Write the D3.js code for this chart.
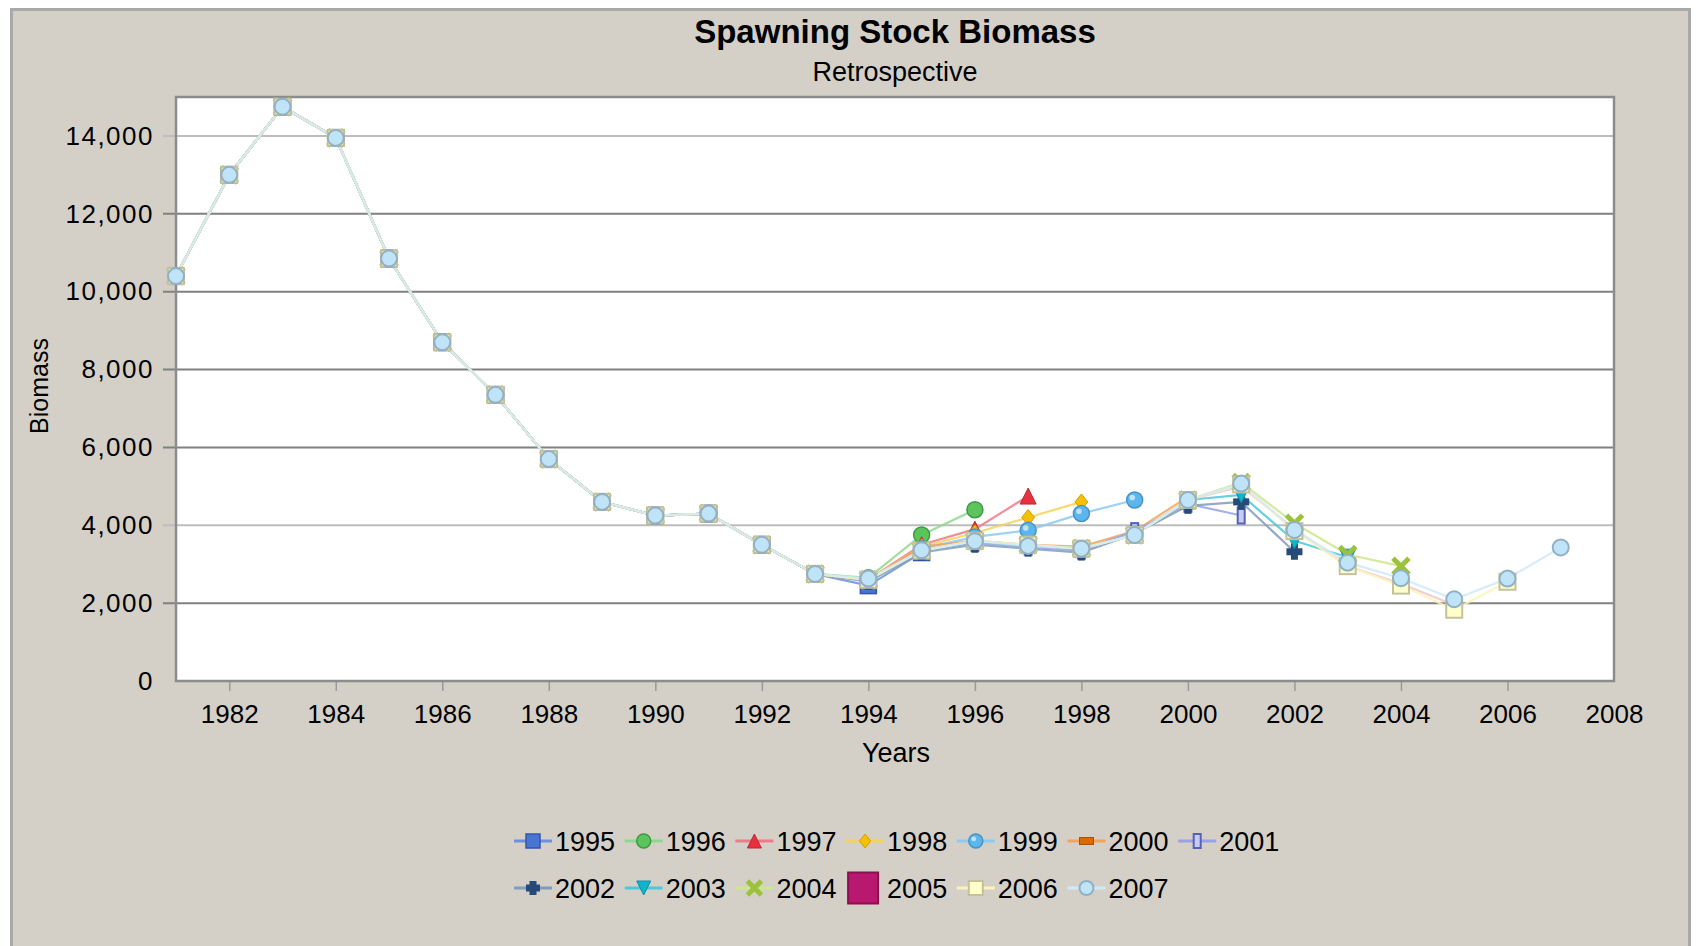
<!DOCTYPE html>
<html>
<head>
<meta charset="utf-8">
<script src="https://cdn.jsdelivr.net/npm/d3@7"></script>
<style>
  html, body { margin: 0; padding: 0; background: #ffffff; }
  svg { display: block; }
  text { font-family: "Liberation Sans", Arial, sans-serif; fill: #000; }
</style>
</head>
<body>
<svg id="chart" width="1703" height="946"></svg>
<script>
// ---------------- DATA ----------------
const chartTitle = "Spawning Stock Biomass";
const chartSubtitle = "Retrospective";
const xLabel = "Years";
const yLabel = "Biomass";

const startYear = 1981;
const xTickLabels = [1982, 1984, 1986, 1988, 1990, 1992, 1994, 1996, 1998, 2000, 2002, 2004, 2006, 2008];
const yTickLabels = [0, 2000, 4000, 6000, 8000, 10000, 12000, 14000];

const seriesNames = ["1995", "1996", "1997", "1998", "1999", "2000", "2001",
                     "2002", "2003", "2004", "2005", "2006", "2007"];

// shared values 1981-1993 (all retrospective runs coincide there)
const commonValues = [10400, 13000, 14750, 13950, 10850, 8700, 7350, 5700, 4600, 4250, 4300, 3500, 2750];

// values from 1994 to the terminal year of each run
const tail1995 = [2450, 3300];
const tail1996 = [2650, 3750, 4400];
const tail1997 = [2600, 3500, 3900, 4750];
const tail1998 = [2600, 3450, 3800, 4200, 4600];
const tail1999 = [2600, 3400, 3700, 3870, 4300, 4650];
const tail2000 = [2600, 3450, 3600, 3500, 3450, 3850, 4730];
const tail2001 = [2600, 3350, 3550, 3450, 3350, 3850, 4550, 4250];
const tail2002 = [2550, 3300, 3500, 3400, 3300, 3780, 4500, 4600, 3320];
const tail2003 = [2600, 3350, 3580, 3480, 3400, 3760, 4650, 4780, 3600, 3180];
const tail2004 = [2600, 3350, 3600, 3500, 3400, 3750, 4650, 5100, 4050, 3250, 2950];
const tail2005 = [2600, 3350, 3600, 3500, 3400, 3750, 4650, 5000, 3900, 2950, 2500, 1950];
const tail2006 = [2600, 3350, 3600, 3500, 3400, 3750, 4650, 5050, 3850, 2950, 2450, 1830, 2550];
const tail2007 = [2630, 3360, 3590, 3470, 3400, 3750, 4650, 5070, 3880, 3040, 2640, 2100, 2630, 3430];

const tails = [tail1995, tail1996, tail1997, tail1998, tail1999, tail2000, tail2001,
               tail2002, tail2003, tail2004, tail2005, tail2006, tail2007];

// ---------------- STYLE ----------------
const lineColors = ["#6f8fd8", "#8ed88e", "#f07a88", "#f5d25a", "#8ccaf2", "#f3a45a", "#9aa2e4",
                    "#7f9cbc", "#4cc8d8", "#cce88a", "#f2c4c4", "#fbf4bc", "#cfeaf8"];
const markerTypes = ["square", "circle", "triangle", "diamond", "bluecircle", "hbar", "vbar",
                     "plus", "downtri", "xmark", "none", "palesquare", "basecircle"];

const W = 1703, H = 946;
const plotL = 176, plotR = 1614, plotT = 97, plotB = 681;

const svg = d3.select("#chart");

// outer panel
svg.append("rect").attr("x", 11).attr("y", 9).attr("width", 1678).attr("height", H)
  .attr("fill", "#d4d0c8");
svg.append("path").attr("d", `M11.5,${H} V9.5 H1689.5 V${H}`)
  .attr("fill", "none").attr("stroke", "#a9a9a9").attr("stroke-width", 3);

const x = d3.scaleLinear().domain([startYear, 2008]).range([plotL, plotR]);
const y = d3.scaleLinear().domain([0, 15000]).range([plotB, plotT]);

// plot background
svg.append("rect").attr("x", plotL).attr("y", plotT).attr("width", plotR - plotL).attr("height", plotB - plotT)
  .attr("fill", "#ffffff");

// gridlines + y tick marks
const gridColor = v => (v === 14000 || v === 4000) ? "#bdbdbd" : "#808080";
svg.append("g").selectAll("line").data(yTickLabels.filter(v => v > 0)).join("line")
  .attr("x1", plotL - 13).attr("x2", plotR)
  .attr("y1", d => y(d)).attr("y2", d => y(d))
  .attr("stroke", gridColor).attr("stroke-width", 2);

// y axis labels via d3 axis
const yAxis = d3.axisLeft(y).tickValues(yTickLabels).tickFormat(d3.format(",")).tickSize(0).tickPadding(22);
const gy = svg.append("g").attr("transform", `translate(${plotL},0)`).call(yAxis);
gy.select(".domain").remove();
gy.selectAll("text").attr("font-size", 26).attr("letter-spacing", 1.5)
  .style("font-family", '"Liberation Sans", Arial, sans-serif').attr("fill", "#000");

// x axis
const xAxis = d3.axisBottom(x).tickValues(xTickLabels).tickFormat(d3.format("d")).tickSize(10).tickPadding(14);
const gx = svg.append("g").attr("transform", `translate(0,${plotB})`).call(xAxis);
gx.select(".domain").remove();
gx.selectAll(".tick line").attr("stroke", "#9a9a9a").attr("stroke-width", 1.5)
  .filter(d => d === 2008).remove();
gx.selectAll("text").attr("font-size", 26)
  .style("font-family", '"Liberation Sans", Arial, sans-serif').attr("fill", "#000");

// plot frame
svg.append("rect").attr("x", plotL).attr("y", plotT).attr("width", plotR - plotL).attr("height", plotB - plotT)
  .attr("fill", "none").attr("stroke", "#8c8c8c").attr("stroke-width", 2.5);

// titles
svg.append("text").attr("x", 895).attr("y", 43).attr("text-anchor", "middle")
  .attr("font-size", 33).attr("font-weight", "bold").text(chartTitle);
svg.append("text").attr("x", 895).attr("y", 81).attr("text-anchor", "middle")
  .attr("font-size", 27).text(chartSubtitle);
svg.append("text").attr("x", 896).attr("y", 762).attr("text-anchor", "middle")
  .attr("font-size", 27).text(xLabel);
svg.append("text").attr("transform", "translate(48,386) rotate(-90)").attr("text-anchor", "middle")
  .attr("font-size", 25).text(yLabel);

// ---------------- MARKERS ----------------
function drawMarker(g, type, cx, cy, s) {
  const h = s / 2;
  const m = g.append("g").attr("transform", `translate(${cx},${cy})`);
  switch (type) {
    case "square":
      m.append("rect").attr("x", -h).attr("y", -h).attr("width", s).attr("height", s)
        .attr("fill", "#4a74d4").attr("stroke", "#3556a8").attr("stroke-width", 1.5); break;
    case "circle":
      m.append("circle").attr("r", h).attr("fill", "#5cc45c").attr("stroke", "#3f9a44").attr("stroke-width", 1.5); break;
    case "triangle":
      m.append("path").attr("d", `M0,${-h} L${h},${h} L${-h},${h} Z`)
        .attr("fill", "#e8303f").attr("stroke", "#b82a38").attr("stroke-width", 1); break;
    case "diamond":
      m.append("path").attr("d", `M0,${-h} L${h * 0.8},0 L0,${h} L${-h * 0.8},0 Z`)
        .attr("fill", "#f5c000").attr("stroke", "#d2a000").attr("stroke-width", 1); break;
    case "bluecircle":
      m.append("circle").attr("r", h).attr("fill", "#5cb6ee").attr("stroke", "#4a92c4").attr("stroke-width", 1.5);
      m.append("circle").attr("r", h * 0.35).attr("cx", -h * 0.3).attr("cy", -h * 0.3).attr("fill", "#bfe2fa"); break;
    case "hbar":
      m.append("rect").attr("x", -h).attr("y", -3.5).attr("width", s).attr("height", 7)
        .attr("fill", "#d86a08").attr("stroke", "#b05000").attr("stroke-width", 1); break;
    case "vbar":
      m.append("rect").attr("x", -3.5).attr("y", -h).attr("width", 7).attr("height", s)
        .attr("fill", "#c8ccf2").attr("stroke", "#5462b8").attr("stroke-width", 2); break;
    case "plus":
      m.append("rect").attr("x", -h).attr("y", -3.5).attr("width", s).attr("height", 7).attr("fill", "#284a78");
      m.append("rect").attr("x", -3.5).attr("y", -h).attr("width", 7).attr("height", s).attr("fill", "#284a78"); break;
    case "downtri":
      m.append("path").attr("d", `M${-h},${-h} L${h},${-h} L0,${h} Z`)
        .attr("fill", "#12b4cc").attr("stroke", "#0a90a8").attr("stroke-width", 1); break;
    case "xmark":
      m.append("path").attr("d", `M${-h},${-h} L${h},${h} M${h},${-h} L${-h},${h}`)
        .attr("stroke", "#9cc23c").attr("stroke-width", 5); break;
    case "palesquare":
      m.append("rect").attr("x", -h).attr("y", -h).attr("width", s).attr("height", s)
        .attr("fill", "#ffffcc").attr("stroke", "#c4c29c").attr("stroke-width", 2); break;
    case "basecircle":
      m.append("circle").attr("r", h).attr("fill", "#bfe4f8").attr("stroke", "#93afc4").attr("stroke-width", 2); break;
    case "bigsquare":
      m.append("rect").attr("x", -15).attr("y", -15.5).attr("width", 30).attr("height", 31)
        .attr("fill", "#b8186e").attr("stroke", "#8c1050").attr("stroke-width", 2); break;
  }
}

// ---------------- SERIES ----------------
const line = d3.line().x(d => x(d.year)).y(d => y(d.value));
const seriesData = seriesNames.map((name, i) => {
  const vals = commonValues.concat(tails[i]);
  return { name, color: lineColors[i], marker: markerTypes[i],
           points: vals.map((v, k) => ({ year: startYear + k, value: v })) };
});

const gSeries = svg.append("g");
seriesData.forEach(s => {
  gSeries.append("path").datum(s.points).attr("d", line)
    .attr("fill", "none").attr("stroke", s.color).attr("stroke-width", 2.2).attr("stroke-opacity", 0.85);
});
seriesData.forEach(s => {
  if (s.marker === "none") return;
  s.points.forEach(p => drawMarker(gSeries, s.marker, x(p.year), y(p.value), 16));
});

// ---------------- LEGEND ----------------
const legendX0 = 514, legendDX = 110.7;
const legendRows = [841, 888];
const gLeg = svg.append("g");
seriesData.forEach((s, i) => {
  const row = i < 7 ? 0 : 1;
  const col = i < 7 ? i : i - 7;
  const lx = legendX0 + col * legendDX;
  const ly = legendRows[row];
  if (s.marker === "none") {
    drawMarker(gLeg, "bigsquare", lx + 17, ly, 30);
    gLeg.append("text").attr("x", lx + 41).attr("y", ly + 10).attr("font-size", 27).text(s.name);
  } else {
    gLeg.append("line").attr("x1", lx).attr("x2", lx + 38).attr("y1", ly).attr("y2", ly)
      .attr("stroke", s.color).attr("stroke-width", 3);
    drawMarker(gLeg, s.marker, lx + 19, ly, 14);
    gLeg.append("text").attr("x", lx + 41).attr("y", ly + 10).attr("font-size", 27).text(s.name);
  }
});
</script>
</body>
</html>
